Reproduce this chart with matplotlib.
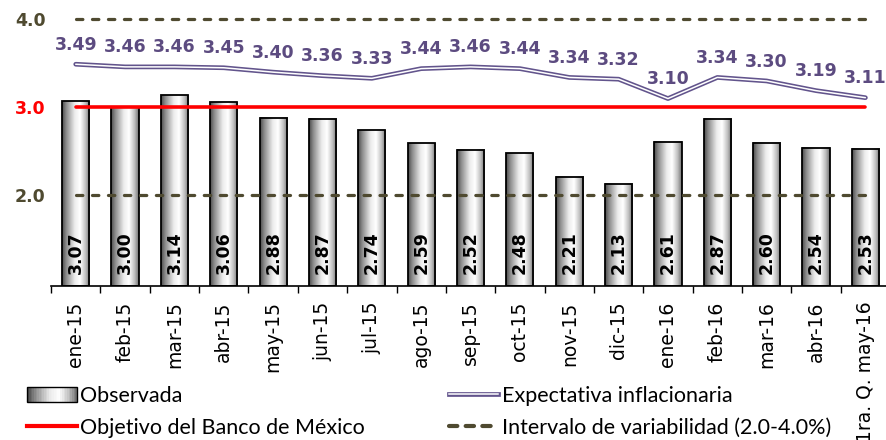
import numpy as np
import matplotlib.pyplot as plt
from matplotlib.patches import Rectangle
from matplotlib.lines import Line2D
from matplotlib.legend_handler import HandlerBase, HandlerTuple


meses = ["ene-15", "feb-15", "mar-15", "abr-15", "may-15", "jun-15", "jul-15",
         "ago-15", "sep-15", "oct-15", "nov-15", "dic-15", "ene-16", "feb-16",
         "mar-16", "abr-16", "1ra. Q. may-16"]
observada = [3.07, 3.00, 3.14, 3.06, 2.88, 2.87, 2.74, 2.59, 2.52, 2.48,
             2.21, 2.13, 2.61, 2.87, 2.60, 2.54, 2.53]
expectativa = [3.49, 3.46, 3.46, 3.45, 3.40, 3.36, 3.33, 3.44, 3.46, 3.44,
               3.34, 3.32, 3.10, 3.34, 3.30, 3.19, 3.11]
objetivo = 3.0
intervalo = [2.0, 4.0]
yticks = [2.0, 3.0, 4.0]

olivo = "#4f4a30"
morado = "#62548c"
ymin, ymax = 0.97, 4.22


def perfil(t):
    # tono de gris del "cilindro" de izquierda a derecha
    return np.interp(t, [0, 0.15, 0.45, 0.65, 0.85, 1], [0.30, 0.55, 0.92, 1.0, 0.75, 0.45])


class HandlerCilindro(HandlerBase):
    def create_artists(self, legend, orig, xd, yd, w, h, fs, trans):
        n = 30
        arts = []
        for i in range(n):
            g = float(perfil(i / (n - 1)))
            arts.append(Rectangle((xd + w * i / n, yd), w / n + 0.3, h,
                                  facecolor=(g, g, g), edgecolor="none", transform=trans))
        arts.append(Rectangle((xd, yd), w, h, fill=False, edgecolor="black", lw=1, transform=trans))
        return arts


fig = plt.figure(figsize=(8.86, 4.40), dpi=100)
ax = fig.add_axes([0.0576, 0.35, 0.947, 0.65])

x = np.arange(len(meses))
ancho = 0.55
grad = perfil(np.linspace(0, 1, 64))[None, :]
negrita = {"family": "DejaVu Sans", "fontweight": "bold", "fontsize": 12.5}

for xi, v in zip(x, observada):
    ax.imshow(grad, extent=(xi - ancho / 2, xi + ancho / 2, ymin, v), aspect="auto",
              cmap="gray", vmin=0, vmax=1, zorder=2, interpolation="bilinear")
    ax.add_patch(Rectangle((xi - ancho / 2, ymin), ancho, v - ymin, fill=False,
                           edgecolor="black", lw=1.3, zorder=3))
    ax.annotate(f"{v:.2f}", (xi, ymin), xytext=(0, 9), textcoords="offset points",
                rotation=90, ha="center", va="bottom", color="black", zorder=4, **negrita)

for lim in intervalo:
    ax.plot([x[0], x[-1]], [lim, lim], color=olivo, lw=2.3, dashes=(2, 3),
            dash_capstyle="round", zorder=4)
ax.plot([x[0], x[-1]], [objetivo, objetivo], color="#ff0000", lw=2.6,
        solid_capstyle="round", zorder=5)

ax.plot(x, expectativa, color=morado, lw=3.4, solid_capstyle="round", zorder=6)
ax.plot(x, expectativa, color="white", lw=1.1, solid_capstyle="round", zorder=7)
for xi, v in zip(x, expectativa):
    ax.annotate(f"{v:.2f}", (xi, v), xytext=(0, 14), textcoords="offset points",
                ha="center", va="center", color="#5c4b80", zorder=8, **negrita)

ax.set_xlim(-0.5, len(meses) - 0.5)
ax.set_ylim(ymin, ymax)
ax.set_xticks(x)
ax.set_xticklabels(meses, rotation=90, fontsize=13.5, family="DejaVu Sans")
ax.set_xticks(np.arange(-0.5, len(meses) - 0.5, 1), minor=True)
ax.tick_params(axis="x", which="major", length=0, pad=11)
ax.tick_params(axis="x", which="minor", length=5, width=1, direction="out", color="black")
ax.set_yticks(yticks)
ax.set_yticklabels([f"{t:.1f}" for t in yticks], **negrita)
for lab, c in zip(ax.get_yticklabels(), [olivo, "#ff0000", olivo]):
    lab.set_color(c)
ax.tick_params(axis="y", length=0, pad=4)

for s in ["top", "right", "left"]:
    ax.spines[s].set_visible(False)
ax.spines["bottom"].set_linewidth(1.2)

h_obs = Rectangle((0, 0), 1, 1)
h_obj = Line2D([], [], color="#ff0000", lw=3)
h_exp = (Line2D([], [], color=morado, lw=3.4), Line2D([], [], color="white", lw=1.1))
h_int = Line2D([], [], color=olivo, lw=3, dashes=(2, 2), dash_capstyle="round")
fig.legend([h_obs, h_obj, h_exp, h_int],
           ["Observada", "Objetivo del Banco de México", "Expectativa inflacionaria",
            "Intervalo de variabilidad (2.0-4.0%)"],
           ncol=2, loc="upper left", bbox_to_anchor=(0.031, 0.123), frameon=False,
           prop={"family": "Lato", "size": 15.5}, handlelength=2.3, handletextpad=0.15,
           columnspacing=3.9, labelspacing=0.55, borderaxespad=0, borderpad=0,
           handler_map={Rectangle: HandlerCilindro(), tuple: HandlerTuple(ndivide=1)})

fig.savefig("out.png", dpi=100)
